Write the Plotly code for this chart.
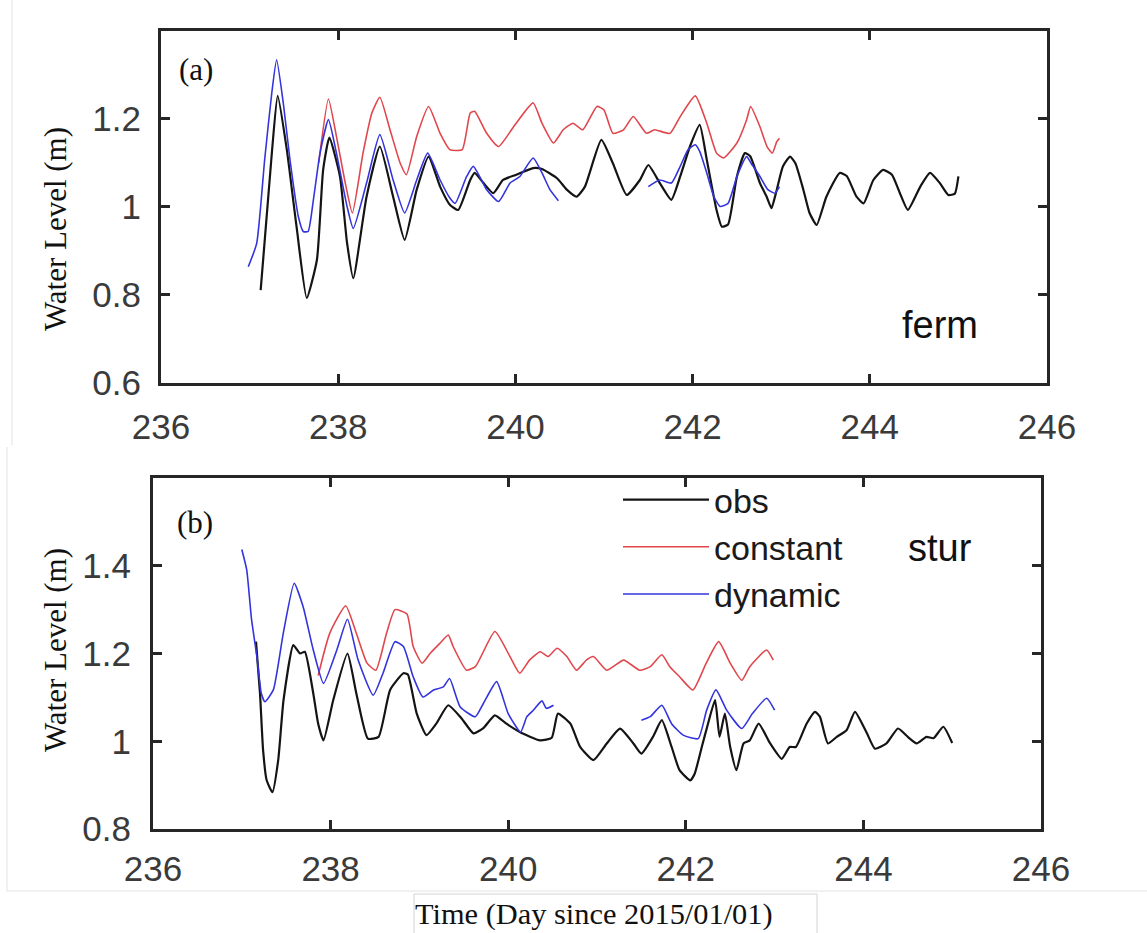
import plotly.graph_objects as go

# ---------------- data ----------------
# Panel (a) ferm
ferm_obs_day = [237.125, 237.25, 237.317, 237.42, 237.53, 237.645, 237.76, 237.83, 237.90, 238.02, 238.10, 238.17,
                238.32, 238.47, 238.62, 238.75, 238.886, 239.02, 239.15, 239.26, 239.355, 239.49, 239.54, 239.64,
                239.75, 239.86, 240.01, 240.2, 240.3, 240.47, 240.58, 240.69, 240.785, 240.97, 241.1, 241.256,
                241.405, 241.50, 241.63, 241.76, 241.86, 241.97, 242.08, 242.16, 242.27, 242.33, 242.40, 242.5,
                242.59, 242.65, 242.76, 242.836, 242.89, 242.95, 243.02, 243.1, 243.16, 243.25, 243.32, 243.40,
                243.51, 243.66, 243.74, 243.85, 243.93, 244.04, 244.15, 244.25, 244.34, 244.43, 244.57, 244.68,
                244.79, 244.886, 244.96, 245.0]
ferm_obs_val = [0.811, 1.12, 1.252, 1.13, 0.955, 0.793, 0.88, 1.084, 1.157, 1.069, 0.918, 0.838,
                1.023, 1.137, 1.023, 0.925, 1.039, 1.114, 1.046, 1.005, 0.993, 1.061, 1.077, 1.054,
                1.031, 1.061, 1.073, 1.088, 1.086, 1.065, 1.039, 1.023, 1.046, 1.152, 1.099, 1.027,
                1.061, 1.095, 1.054, 1.016, 1.069, 1.137, 1.186, 1.107, 0.993, 0.955, 0.96, 1.069,
                1.122, 1.115, 1.054, 1.023, 0.997, 1.039, 1.092, 1.114, 1.099, 1.039, 0.986, 0.959,
                1.023, 1.077, 1.07, 1.023, 1.008, 1.061, 1.084, 1.073, 1.031, 0.993, 1.046, 1.077,
                1.054, 1.027, 1.03, 1.069]

ferm_const_day = [237.78, 237.89, 237.98, 238.08, 238.16, 238.28, 238.38, 238.47, 238.585, 238.70, 238.77, 238.886,
                  239.02, 239.15, 239.26, 239.40, 239.49, 239.54, 239.676, 239.81, 239.98, 240.2, 240.3, 240.43,
                  240.54, 240.65, 240.76, 240.92, 241.0, 241.1, 241.22, 241.33, 241.48, 241.57, 241.745, 241.86,
                  242.03, 242.16, 242.27, 242.35, 242.5, 242.61, 242.655, 242.76, 242.84, 242.9, 242.95, 242.98]
ferm_const_val = [1.10, 1.245, 1.16, 1.054, 0.986, 1.122, 1.213, 1.249, 1.175, 1.099, 1.073, 1.16,
                  1.228, 1.167, 1.13, 1.13, 1.213, 1.217, 1.167, 1.137, 1.182, 1.236, 1.19, 1.145,
                  1.175, 1.19, 1.175, 1.228, 1.22, 1.167, 1.175, 1.205, 1.167, 1.175, 1.167, 1.205,
                  1.252, 1.19, 1.122, 1.111, 1.145, 1.198, 1.228, 1.182, 1.137, 1.122, 1.148, 1.156]

ferm_dyn_day = [236.985, 237.08, 237.17, 237.25, 237.305, 237.38, 237.456, 237.55, 237.606, 237.66, 237.72, 237.795,
                237.89, 237.98, 238.10, 238.17, 238.32, 238.47, 238.62, 238.75, 238.886, 239.01, 239.15, 239.26,
                239.32, 239.45, 239.525, 239.676, 239.81, 239.94, 240.05, 240.2, 240.3, 240.39, 240.485,
                None,
                241.5, 241.63, 241.76, 241.86, 241.95, 242.03, 242.08, 242.16, 242.24, 242.31, 242.40, 242.5,
                242.61, 242.66, 242.76, 242.85, 242.93, 242.98]
ferm_dyn_val = [0.864, 0.917, 1.107, 1.258, 1.334, 1.236, 1.107, 0.978, 0.944, 0.944, 1.016, 1.122,
                1.198, 1.122, 1.001, 0.951, 1.054, 1.164, 1.061, 0.986, 1.061, 1.122, 1.061, 1.02,
                1.008, 1.069, 1.092, 1.039, 1.012, 1.054, 1.069, 1.111, 1.077, 1.039, 1.014,
                None,
                1.046, 1.061, 1.054, 1.092, 1.13, 1.141, 1.126, 1.077, 1.023, 1.001, 1.008, 1.069,
                1.114, 1.099, 1.069, 1.039, 1.031, 1.046]

# Panel (b) stur
stur_obs_day = [237.16, 237.205, 237.24, 237.28, 237.345, 237.41, 237.47, 237.58, 237.655, 237.71, 237.805, 237.86,
                237.92, 238.03, 238.19, 238.29, 238.42, 238.54, 238.67, 238.82, 238.87, 238.97, 239.08, 239.19,
                239.325, 239.475, 239.61, 239.72, 239.85, 239.98, 240.13, 240.36, 240.49, 240.56, 240.70, 240.81,
                240.96, 241.11, 241.26, 241.41, 241.50, 241.63, 241.73, 241.84, 241.93, 242.05, 242.10, 242.18,
                242.25, 242.33, 242.38, 242.44, 242.50, 242.57, 242.65, 242.72, 242.82, 242.95, 243.08, 243.17,
                243.24, 243.36, 243.455, 243.51, 243.60, 243.70, 243.81, 243.905, 244.04, 244.13, 244.26, 244.39,
                244.50, 244.60, 244.71, 244.79, 244.90, 245.0]
stur_obs_val = [1.227, 1.109, 0.979, 0.911, 0.884, 0.957, 1.094, 1.219, 1.2, 1.204, 1.109, 1.04,
                1.002, 1.094, 1.2, 1.109, 1.006, 1.01, 1.117, 1.155, 1.152, 1.063, 1.014, 1.04,
                1.082, 1.052, 1.018, 1.03, 1.059, 1.04, 1.021, 1.002, 1.008, 1.063, 1.04, 0.987,
                0.957, 0.995, 1.029, 0.995, 0.972, 1.01, 1.048, 0.987, 0.934, 0.911, 0.926, 0.987,
                1.04, 1.094, 1.01, 1.063, 0.987, 0.934, 0.995, 1.002, 1.04, 0.995, 0.96, 0.987,
                0.987, 1.04, 1.067, 1.056, 0.995, 1.01, 1.025, 1.067, 1.018, 0.983, 0.995, 1.029,
                1.01, 0.995, 1.01, 1.007, 1.033, 0.996]

stur_const_day = [237.86, 237.99, 238.17, 238.29, 238.41, 238.51, 238.63, 238.725, 238.86, 238.93, 239.03, 239.12,
                  239.23, 239.325, 239.38, 239.53, 239.63, 239.85, 240.02, 240.13, 240.24, 240.36, 240.45, 240.55,
                  240.66, 240.77, 240.88, 240.96, 241.11, 241.3, 241.48, 241.6, 241.73, 241.82, 241.93, 242.08,
                  242.23, 242.37, 242.5, 242.63, 242.72, 242.91, 242.985]
stur_const_val = [1.15, 1.246, 1.309, 1.246, 1.178, 1.162, 1.246, 1.3, 1.29, 1.216, 1.178, 1.2,
                  1.223, 1.242, 1.216, 1.162, 1.17, 1.25, 1.193, 1.155, 1.185, 1.204, 1.193, 1.212,
                  1.193, 1.162, 1.185, 1.193, 1.162, 1.185, 1.162, 1.17, 1.197, 1.17, 1.147, 1.117,
                  1.178, 1.227, 1.178, 1.139, 1.17, 1.208, 1.185]

stur_dyn_day = [237.0, 237.055, 237.11, 237.17, 237.22, 237.26, 237.355, 237.467, 237.59, 237.69, 237.805, 237.92,
                238.07, 238.19, 238.31, 238.48, 238.59, 238.725, 238.82, 238.93, 239.04, 239.16, 239.27, 239.34,
                239.46, 239.63, 239.72, 239.87, 240.0, 240.14, 240.21, 240.28, 240.38, 240.43, 240.51,
                None,
                241.5, 241.6, 241.73, 241.84, 241.97, 242.14, 242.235, 242.34, 242.46, 242.63, 242.75, 242.91, 243.0]
stur_dyn_val = [1.437, 1.391, 1.277, 1.193, 1.109, 1.09, 1.117, 1.246, 1.36, 1.307, 1.208, 1.132,
                1.208, 1.278, 1.185, 1.105, 1.155, 1.227, 1.216, 1.147, 1.101, 1.117, 1.124, 1.143,
                1.078, 1.056, 1.086, 1.136, 1.063, 1.021, 1.056, 1.07, 1.092, 1.075, 1.082,
                None,
                1.048, 1.056, 1.082, 1.04, 1.014, 1.006, 1.071, 1.117, 1.071, 1.029, 1.063, 1.098, 1.071]

x_ticks = [236, 238, 240, 242, 244, 246]
ya_ticks = [0.6, 0.8, 1, 1.2]
yb_ticks = [0.8, 1, 1.2, 1.4]
series_names = ["obs", "constant", "dynamic"]

# ---------------- styling ----------------
W, H = 1147, 933
SANS = "Liberation Sans, Arial, sans-serif"
SERIF = "Liberation Serif, Times New Roman, serif"
C_OBS = "#141414"
C_CON = "#e0474c"
C_DYN = "#3434dc"
AX = "#262626"


def px_x(p):
    return p / W


def px_y(p):
    return 1 - p / H


fig = go.Figure()

panels = [
    ("x", "y", ferm_obs_day, ferm_obs_val, ferm_const_day, ferm_const_val, ferm_dyn_day, ferm_dyn_val, True),
    ("x2", "y2", stur_obs_day, stur_obs_val, stur_const_day, stur_const_val, stur_dyn_day, stur_dyn_val, False),
]
for xa, ya, od, ov, cd, cv, dd, dv, first in panels:
    show = not first
    fig.add_trace(go.Scatter(x=od, y=ov, mode="lines", name=series_names[0], xaxis=xa, yaxis=ya,
                             line=dict(color=C_OBS, width=2.2, shape="spline", smoothing=0.5), showlegend=show))
    fig.add_trace(go.Scatter(x=cd, y=cv, mode="lines", name=series_names[1], xaxis=xa, yaxis=ya,
                             line=dict(color=C_CON, width=1.6, shape="spline", smoothing=0.5), showlegend=show))
    fig.add_trace(go.Scatter(x=dd, y=dv, mode="lines", name=series_names[2], xaxis=xa, yaxis=ya,
                             line=dict(color=C_DYN, width=1.6, shape="spline", smoothing=0.5),
                             showlegend=show, connectgaps=False))

axis_common = dict(showline=True, linecolor=AX, linewidth=3, mirror="ticks", ticks="inside",
                   ticklen=9, tickwidth=2.5, tickcolor=AX, showgrid=False, zeroline=False,
                   automargin=False,
                   tickfont=dict(family=SANS, size=35, color="#3a3a3a"))

fig.update_layout(
    template="none",
    width=W, height=H, margin=dict(l=0, r=0, t=0, b=0, pad=0),
    paper_bgcolor="white", plot_bgcolor="white",
    xaxis=dict(domain=[px_x(161), px_x(1047)], range=[236, 246], tickvals=x_ticks, anchor="y",
               ticklabelstandoff=11, **axis_common),
    yaxis=dict(domain=[px_y(383), px_y(30.7)], range=[0.6, 1.4], tickvals=ya_ticks, anchor="x",
               ticklabelstandoff=10, **axis_common),
    xaxis2=dict(domain=[px_x(153), px_x(1041)], range=[236, 246], tickvals=x_ticks, anchor="y2",
                ticklabelstandoff=7, **axis_common),
    yaxis2=dict(domain=[px_y(829), px_y(478)], range=[0.8, 1.6], tickvals=yb_ticks, anchor="x2",
                ticklabelstandoff=12, **axis_common),
    legend=dict(x=px_x(618), y=px_y(471), xanchor="left", yanchor="top", bgcolor="rgba(0,0,0,0)",
                borderwidth=0, font=dict(family=SANS, size=34, color="#1a1a1a"), itemwidth=86,
                tracegroupgap=0),
    showlegend=True,
)

annos = [
    dict(text="(a)", x=px_x(196), y=px_y(70), font=dict(family=SERIF, size=31, color="#111")),
    dict(text="ferm", x=px_x(940), y=px_y(325), font=dict(family=SANS, size=38, color="#111")),
    dict(text="(b)", x=px_x(195), y=px_y(522), font=dict(family=SERIF, size=31, color="#111")),
    dict(text="stur", x=px_x(940), y=px_y(548), font=dict(family=SANS, size=38, color="#111")),
    dict(text="Water Level (m)", x=px_x(55), y=px_y(229), textangle=-90,
         font=dict(family=SERIF, size=31, color="#111")),
    dict(text="Water Level (m)", x=px_x(55), y=px_y(650), textangle=-90,
         font=dict(family=SERIF, size=31, color="#111")),
]
for a in annos:
    fig.add_annotation(xref="paper", yref="paper", showarrow=False, xanchor="center", yanchor="middle", **a)

fig.add_annotation(text="Time (Day since 2015/01/01)", xref="paper", yref="paper", x=px_x(413), y=px_y(914),
                   xanchor="left", yanchor="middle", showarrow=False,
                   font=dict(family=SERIF, size=30.4, color="#111"))

# faint borders from the composed figure
border = dict(color="#d4d4d4", width=1)
fig.add_shape(type="rect", xref="paper", yref="paper", x0=px_x(414), x1=px_x(817), y0=px_y(894), y1=px_y(934),
              line=border)
fig.add_shape(type="line", xref="paper", yref="paper", x0=px_x(7), x1=1, y0=px_y(891), y1=px_y(891),
              line=dict(color="#e2e2e2", width=1))
fig.add_shape(type="line", xref="paper", yref="paper", x0=px_x(12), x1=px_x(12), y0=px_y(0), y1=px_y(445),
              line=dict(color="#e2e2e2", width=1))
fig.add_shape(type="line", xref="paper", yref="paper", x0=px_x(7), x1=px_x(7), y0=px_y(447), y1=px_y(891),
              line=dict(color="#e2e2e2", width=1))

fig.write_html("out.html")
